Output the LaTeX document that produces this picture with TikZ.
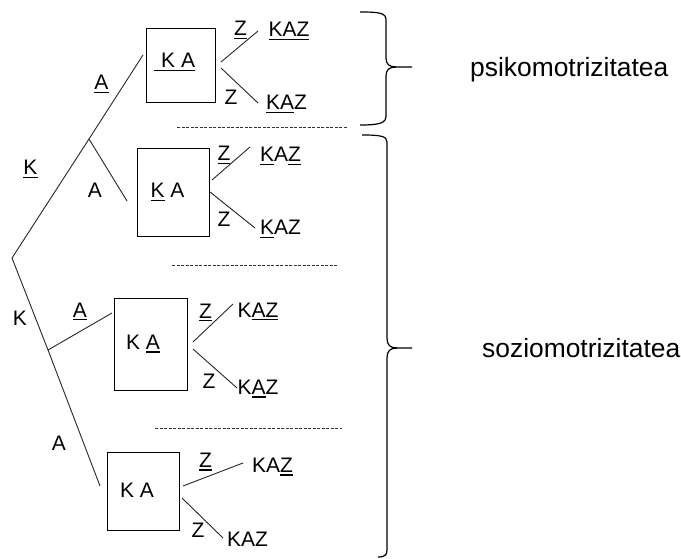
\documentclass[tikz,border=0pt]{standalone}
\usepackage{fontspec}
\setmainfont{Liberation Sans}
\newcommand\myul[1]{\vtop{\hbox{#1}\kern2.2pt\hrule height 1.3pt}}
\begin{document}
\begin{tikzpicture}[x=1pt,y=-1pt,
  lbl/.style={font=\fontsize{21}{24}\selectfont, inner sep=0pt, anchor=base},
  big/.style={font=\fontsize{26.4}{30}\selectfont, inner sep=0pt, anchor=base west},
  boxst/.style={draw, line width=1pt, inner sep=0pt},
  ln/.style={line width=0.9pt, black!85},
  dsh/.style={line width=0.8pt, dash pattern=on 3pt off 1.5pt, black!80},
  brc/.style={line width=1.2pt}]
\useasboundingbox (0,0) rectangle (681,559);

% boxes
\node[boxst, minimum width=69pt, minimum height=74pt] (b1) at (180.5,66) {};
\node[boxst, minimum width=72pt, minimum height=88pt] (b2) at (173,193) {};
\node[boxst, minimum width=73pt, minimum height=91pt] (b3) at (150.5,344.5) {};
\node[boxst, minimum width=72pt, minimum height=78pt] (b4) at (143,491) {};

% box texts
\node[lbl, anchor=base west] (t1) at (154,68) {\myul{\kern7pt K A}};
\node[lbl] (t2) at (167.5,198) {\myul{K} A};
\node[lbl] (t3) at (143,349) {K \myul{A}};
\node[lbl] (t4) at (137,497) {K A};

% tree
\coordinate (r) at (12,258);
\coordinate (u) at (89,139);
\coordinate (ue) at (143,55);
\coordinate (ua) at (127,201);
\coordinate (l) at (48,350);
\coordinate (la) at (112,313);
\coordinate (le) at (100,486);
\draw[ln] (r) -- (u) -- (ue);
\draw[ln] (u) -- (ua);
\draw[ln] (r) -- (l) -- (le);
\draw[ln] (l) -- (la);

% tree labels
\node[lbl] (lk1) at (30.5,175) {\myul{K}};
\node[lbl] (la1) at (101.5,90) {\myul{A}};
\node[lbl] (la2) at (95,198) {A};
\node[lbl] (lk2) at (20,325) {K};
\node[lbl] (la3) at (80,317) {\myul{A}};
\node[lbl] (la4) at (59,450) {A};

% Z branches
\coordinate (s1u) at (221,62);  \coordinate (e1u) at (258,31);
\coordinate (s1d) at (221,68);  \coordinate (e1d) at (258,103);
\coordinate (s2u) at (212,180); \coordinate (e2u) at (250,147);
\coordinate (s2d) at (210,192); \coordinate (e2d) at (255,228);
\coordinate (s3u) at (193,342); \coordinate (e3u) at (233,304);
\coordinate (s3d) at (193,349); \coordinate (e3d) at (237,388);
\coordinate (s4u) at (183,486); \coordinate (e4u) at (243,463);
\coordinate (s4d) at (182,498); \coordinate (e4d) at (223,538);
\foreach \i in {1,2,3,4}{
  \draw[ln] (s\i u) -- (e\i u);
  \draw[ln] (s\i d) -- (e\i d);
}

% Z labels
\node[lbl] (z1u) at (240.5,36) {\myul{Z}};
\node[lbl] (z1d) at (231,105) {Z};
\node[lbl] (z2u) at (224,161) {\myul{Z}};
\node[lbl] (z2d) at (224,227) {Z};
\node[lbl] (z3u) at (205.5,318) {\myul{Z}};
\node[lbl] (z3d) at (209,388) {Z};
\node[lbl] (z4u) at (205.5,467) {\myul{Z}};
\node[lbl] (z4d) at (198,537) {Z};

% results
\node[lbl] (k1u) at (289,37) {\myul{KAZ}};
\node[lbl] (k1d) at (286.5,110) {\myul{KA}Z};
\node[lbl] (k2u) at (280.5,162) {\myul{K}A\myul{Z}};
\node[lbl] (k2d) at (280.5,235) {\myul{K}AZ};
\node[lbl] (k3u) at (258,317) {K\myul{AZ}};
\node[lbl] (k3d) at (258,394) {K\myul{A}Z};
\node[lbl] (k4u) at (272.5,472) {KA\myul{Z}};
\node[lbl] (k4d) at (247.5,546) {KAZ};

% dashed separators
\coordinate (d1a) at (177,127); \coordinate (d1b) at (348,127);
\coordinate (d2a) at (172,265); \coordinate (d2b) at (337,265);
\coordinate (d3a) at (155,428); \coordinate (d3b) at (342,428);
\draw[dsh] (d1a) -- (d1b);
\draw[dsh] (d2a) -- (d2b);
\draw[dsh] (d3a) -- (d3b);

% braces
\draw[brc] (360,12) .. controls (380,12) and (386,13) .. (386,20) -- (386,58)
  .. controls (386,64) and (389,67) .. (396,67) -- (412,67);
\draw[brc] (396,67) .. controls (389,67) and (386,70) .. (386,76) -- (386,116)
  .. controls (386,123) and (380,125) .. (360,125);
\draw[brc] (362,135) .. controls (380,135) and (387,136) .. (387,142) -- (387,338)
  .. controls (387,345) and (390,348) .. (397,348) -- (412,348);
\draw[brc] (397,348) .. controls (390,348) and (387,351) .. (387,358) -- (387,550)
  .. controls (387,555) and (385,557) .. (378,557);

% group labels
\node[big] (psy) at (470,77) {psikomotrizitatea};
\node[big] (soc) at (482,357) {soziomotrizitatea};
\end{tikzpicture}
\end{document}
